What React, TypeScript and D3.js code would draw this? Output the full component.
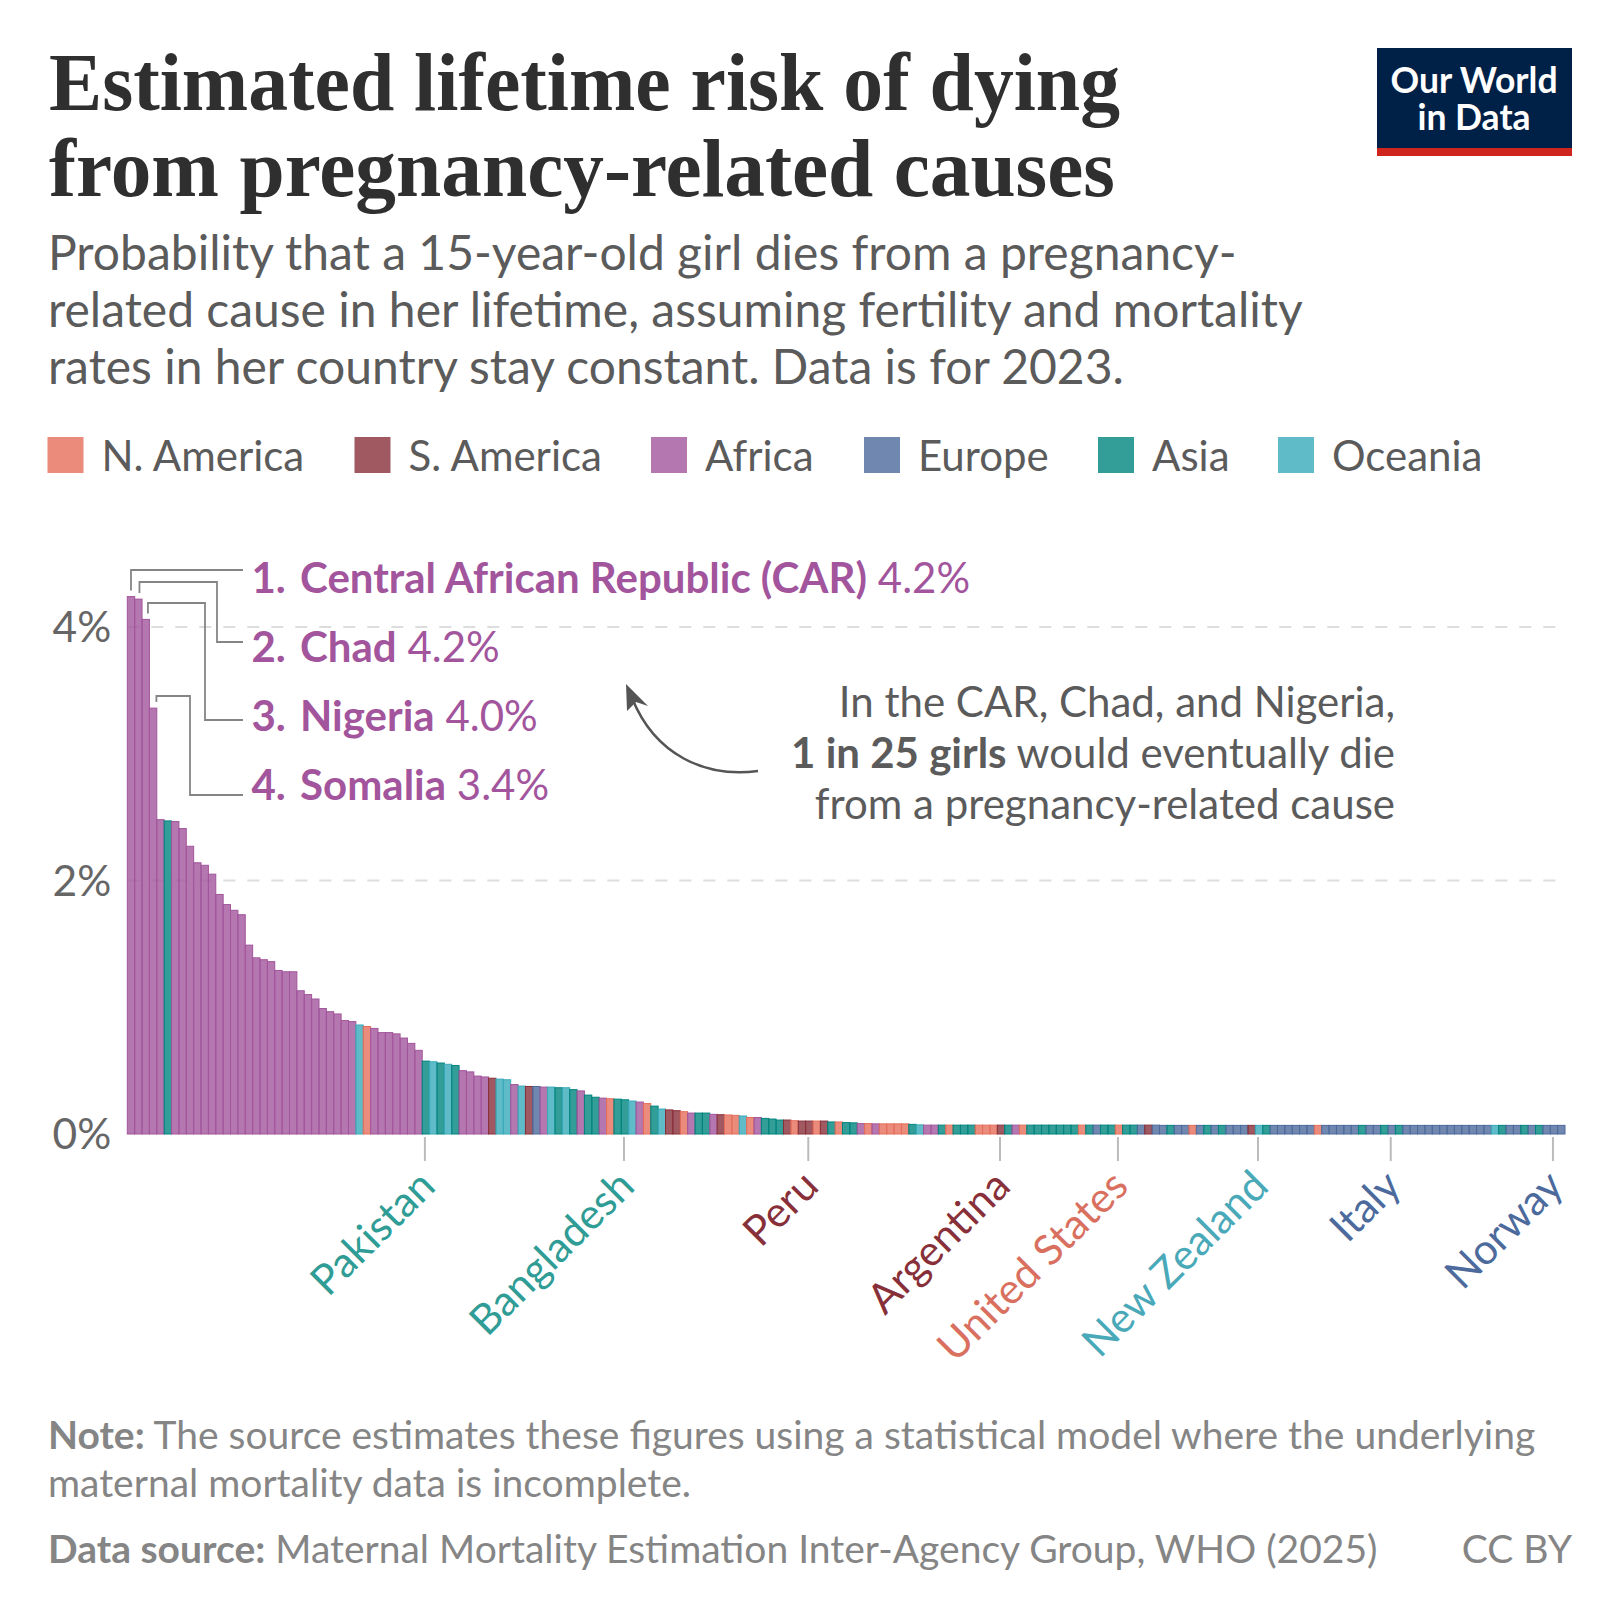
import { useEffect, useRef } from 'react';
import * as d3 from 'd3';

const values = [
  4.24, 4.22, 4.06, 3.36, 2.48, 2.47, 2.465, 2.41, 2.27, 2.14,
  2.12, 2.05, 1.89, 1.81, 1.765, 1.73, 1.49, 1.39, 1.375, 1.36,
  1.29, 1.28, 1.28, 1.13, 1.1, 1.065, 0.99, 0.965, 0.947, 0.895,
  0.887, 0.86, 0.848, 0.833, 0.8, 0.8, 0.79, 0.757, 0.715, 0.66,
  0.575, 0.57, 0.56, 0.55, 0.54, 0.5, 0.49, 0.457, 0.45, 0.44,
  0.433, 0.428, 0.39, 0.378, 0.375, 0.375, 0.37, 0.37, 0.365, 0.365,
  0.35, 0.34, 0.307, 0.29, 0.283, 0.278, 0.275, 0.27, 0.26, 0.252,
  0.24, 0.22, 0.197, 0.19, 0.184, 0.176, 0.165, 0.165, 0.165, 0.155,
  0.152, 0.15, 0.147, 0.142, 0.13, 0.13, 0.123, 0.118, 0.11, 0.11,
  0.105, 0.102, 0.102, 0.102, 0.102, 0.095, 0.095, 0.09, 0.088, 0.082,
  0.082, 0.08, 0.08, 0.08, 0.08, 0.08, 0.076, 0.072, 0.07, 0.07,
  0.07, 0.07, 0.07, 0.07, 0.07, 0.07, 0.07, 0.07, 0.07, 0.07,
  0.07, 0.07, 0.07, 0.07, 0.07, 0.07, 0.07, 0.07, 0.07, 0.07,
  0.07, 0.07, 0.07, 0.07, 0.07, 0.07, 0.07, 0.07, 0.07, 0.07,
  0.068, 0.068, 0.068, 0.068, 0.068, 0.068, 0.068, 0.068, 0.068, 0.068,
  0.068, 0.068, 0.068, 0.068, 0.068, 0.068, 0.068, 0.068, 0.068, 0.068,
  0.068, 0.068, 0.068, 0.068, 0.068, 0.068, 0.068, 0.068, 0.068, 0.068,
  0.068, 0.068, 0.068, 0.068, 0.068, 0.068, 0.068, 0.068, 0.068, 0.068,
  0.068, 0.068, 0.068, 0.068, 0.068, 0.068, 0.068, 0.068, 0.068, 0.068,
  0.068, 0.068, 0.068, 0.068, 0.068,
];

const continents = [
  'AF', 'AF', 'AF', 'AF', 'AF', 'AS', 'AF', 'AF', 'AF', 'AF',
  'AF', 'AF', 'AF', 'AF', 'AF', 'AF', 'AF', 'AF', 'AF', 'AF',
  'AF', 'AF', 'AF', 'AF', 'AF', 'AF', 'AF', 'AF', 'AF', 'AF',
  'AF', 'OC', 'NA', 'AF', 'AF', 'AF', 'AF', 'AF', 'AF', 'AF',
  'AS', 'OC', 'AS', 'OC', 'AS', 'AF', 'AF', 'AF', 'AF', 'SA',
  'OC', 'OC', 'AF', 'OC', 'SA', 'EU', 'AF', 'OC', 'AS', 'OC',
  'AS', 'AF', 'AS', 'AS', 'AF', 'NA', 'AS', 'AS', 'OC', 'AF',
  'NA', 'AS', 'OC', 'SA', 'SA', 'NA', 'AF', 'AS', 'AS', 'AF',
  'SA', 'NA', 'NA', 'OC', 'NA', 'AF', 'AS', 'AS', 'AS', 'SA',
  'NA', 'SA', 'SA', 'NA', 'SA', 'AS', 'NA', 'AS', 'AS', 'AF',
  'NA', 'AF', 'NA', 'NA', 'NA', 'NA', 'AS', 'OC', 'AF', 'AF',
  'AS', 'NA', 'AS', 'AS', 'AS', 'NA', 'NA', 'NA', 'SA', 'AS',
  'AF', 'NA', 'AS', 'AS', 'AS', 'AS', 'AS', 'AS', 'AS', 'NA',
  'AS', 'EU', 'AS', 'AS', 'NA', 'AS', 'AS', 'EU', 'SA', 'EU',
  'EU', 'AS', 'EU', 'EU', 'NA', 'EU', 'AS', 'EU', 'AS', 'EU',
  'EU', 'EU', 'SA', 'OC', 'AS', 'EU', 'EU', 'EU', 'EU', 'EU',
  'EU', 'NA', 'EU', 'EU', 'EU', 'EU', 'EU', 'AS', 'EU', 'EU',
  'AS', 'EU', 'AS', 'EU', 'EU', 'EU', 'EU', 'EU', 'EU', 'EU',
  'EU', 'EU', 'EU', 'EU', 'EU', 'OC', 'AS', 'EU', 'EU', 'AS',
  'EU', 'AS', 'EU', 'EU', 'EU',
];

const legendKeys = ['NA', 'SA', 'AF', 'EU', 'AS', 'OC'];
const legendNames = ['N. America', 'S. America', 'Africa', 'Europe', 'Asia', 'Oceania'];
const legendSwatchX = [47.5, 354.5, 651, 864, 1098, 1278];

const continentColors = ['#E56E5A', '#883039', '#A2559C', '#4C6A9C', '#00847E', '#38AABA'];
const labelColors = ['#D9705F', '#883039', '#A2559C', '#4C6A9C', '#2F9C95', '#4AA9B8'];

const labelledRanks = [40, 67, 92, 118, 134, 153, 171, 193];
const labelledNames = ['Pakistan', 'Bangladesh', 'Peru', 'Argentina', 'United States', 'New Zealand', 'Italy', 'Norway'];

const topRanks = [0, 1, 2, 3];
const topNames = ['Central African Republic (CAR)', 'Chad', 'Nigeria', 'Somalia'];
const topValues = ['4.2%', '4.2%', '4.0%', '3.4%'];

const yTicks = [0, 2, 4];

const SANS = 'Lato, sans-serif';
const SERIF = '"Liberation Serif", serif';

export default function App() {
  const svgRef = useRef<SVGSVGElement>(null);

  useEffect(() => {
    if (!svgRef.current) return;
    const svg = d3.select(svgRef.current);
    svg.selectAll('*').remove();

    const color = d3.scaleOrdinal<string, string>().domain(legendKeys).range(continentColors);
    const labelColor = d3.scaleOrdinal<string, string>().domain(legendKeys).range(labelColors);

    const x = d3.scaleBand<number>().domain(values.map((_, i) => i)).range([127.3, 1565]);
    const y = d3.scaleLinear().domain([0, 4]).range([1134, 627]);

    const text = (tx: number, ty: number, size: number, fill: string, anchor = 'start') =>
      svg.append('text')
        .attr('x', tx)
        .attr('y', ty)
        .attr('font-family', SANS)
        .attr('font-size', size)
        .attr('fill', fill)
        .attr('text-anchor', anchor);

    // Title
    text(49, 110, 82, '#2f2f2f').attr('font-family', SERIF).attr('font-weight', 700)
      .attr('textLength', 1071).attr('lengthAdjust', 'spacingAndGlyphs')
      .text('Estimated lifetime risk of dying');
    text(49, 196, 82, '#2f2f2f').attr('font-family', SERIF).attr('font-weight', 700)
      .attr('textLength', 1066).attr('lengthAdjust', 'spacingAndGlyphs')
      .text('from pregnancy-related causes');

    // Subtitle
    text(48, 270, 48, '#5b5b5b').text('Probability that a 15-year-old girl dies from a pregnancy-');
    text(48, 327, 48, '#5b5b5b').text('related cause in her lifetime, assuming fertility and mortality');
    text(48, 384, 48, '#5b5b5b').text('rates in her country stay constant. Data is for 2023.');

    // Logo
    svg.append('rect').attr('x', 1377).attr('y', 48).attr('width', 195).attr('height', 108).attr('fill', '#002147');
    svg.append('rect').attr('x', 1377).attr('y', 148).attr('width', 195).attr('height', 8).attr('fill', '#CE261E');
    const logo = text(1474, 93, 35.5, '#fff', 'middle').attr('font-weight', 700);
    logo.append('tspan').attr('x', 1474).attr('y', 93).text('Our World');
    logo.append('tspan').attr('x', 1474).attr('y', 130).text('in Data');

    // Legend
    legendNames.forEach((name, i) => {
      svg.append('rect')
        .attr('x', legendSwatchX[i])
        .attr('y', 437)
        .attr('width', 36)
        .attr('height', 36)
        .attr('fill', color(legendKeys[i]))
        .attr('fill-opacity', 0.8);
      text(legendSwatchX[i] + 54, 471, 42, '#5b5b5b').text(name);
    });

    // Y axis with dashed grid
    const yAxis = svg.append('g')
      .attr('transform', 'translate(127.3,1)')
      .call(d3.axisLeft(y).tickValues(yTicks).tickSize(0).tickPadding(16).tickFormat(d => `${d}%`));
    yAxis.select('.domain').remove();
    yAxis.selectAll('text')
      .attr('font-family', SANS)
      .attr('font-size', 42.5)
      .attr('fill', '#666');
    svg.append('g')
      .selectAll('line')
      .data(yTicks.filter(d => d > 0))
      .join('line')
      .attr('x1', 127.3)
      .attr('x2', 1560)
      .attr('y1', d => y(d))
      .attr('y2', d => y(d))
      .attr('stroke', '#ddd')
      .attr('stroke-width', 2)
      .attr('stroke-dasharray', '12 12');

    // Bars
    svg.append('g')
      .selectAll('rect')
      .data(values)
      .join('rect')
      .attr('x', (_, i) => x(i)!)
      .attr('y', d => y(d))
      .attr('width', x.bandwidth())
      .attr('height', d => y(0) - y(d))
      .attr('fill', (_, i) => color(continents[i]))
      .attr('fill-opacity', 0.8)
      .attr('stroke', (_, i) => color(continents[i]))
      .attr('stroke-width', 1);

    // X axis: only the labelled countries
    const labelOf = new Map(labelledRanks.map((r, i) => [r, labelledNames[i]]));
    const xAxis = svg.append('g')
      .attr('transform', `translate(0,${y(0)})`)
      .call(d3.axisBottom(x).tickValues(labelledRanks).tickSize(27).tickPadding(0).tickFormat(d => labelOf.get(d as number) ?? ''));
    xAxis.select('.domain').remove();
    xAxis.selectAll('line')
      .attr('x1', -1)
      .attr('x2', -1)
      .attr('y1', 3)
      .attr('stroke', '#bbb')
      .attr('stroke-width', 2);
    xAxis.selectAll<SVGTextElement, number>('text')
      .attr('font-family', SANS)
      .attr('font-size', 42)
      .attr('dy', 0)
      .attr('y', 0)
      .attr('text-anchor', 'end')
      .attr('transform', 'translate(11.5,54.5) rotate(-45)')
      .attr('fill', d => labelColor(continents[d]));

    // Ranked labels with stepped connectors
    const labelY = [593, 662, 731, 800];
    const lineY = [570, 642, 720, 795];
    const elbowX = [0, 217, 205, 190];
    const riseY = [570, 582, 603, 696];
    const labelX = 251.5;
    topRanks.forEach((r, i) => {
      const cx = x(r)! + x.bandwidth() / 2 + i * 1.1;
      const y0 = y(values[r]) - 6;
      const p = d3.path();
      p.moveTo(cx, y0);
      p.lineTo(cx, riseY[i]);
      if (i > 0) {
        p.lineTo(elbowX[i], riseY[i]);
        p.lineTo(elbowX[i], lineY[i]);
      }
      p.lineTo(243, lineY[i]);
      svg.append('path')
        .attr('d', p.toString())
        .attr('fill', 'none')
        .attr('stroke', '#858585')
        .attr('stroke-width', 1.8);

      const t = text(labelX, labelY[i], 42, '#A2559C');
      t.append('tspan').attr('font-weight', 700).text(`${r + 1}. `);
      t.append('tspan').attr('dx', 4).attr('font-weight', 700).text(topNames[i]);
      t.append('tspan').text(` ${topValues[i]}`);
    });

    // Annotation
    text(1395, 717, 42, '#5b5b5b', 'end').text('In the CAR, Chad, and Nigeria,');
    const mid = text(1395, 768, 42, '#5b5b5b', 'end');
    mid.append('tspan').attr('font-weight', 700).text('1 in 25 girls');
    mid.append('tspan').text(' would eventually die');
    text(1395, 819, 42, '#5b5b5b', 'end').text('from a pregnancy-related cause');

    const arrow = d3.path();
    arrow.moveTo(758, 771);
    arrow.bezierCurveTo(705, 778, 655, 755, 632, 698);
    svg.append('path').attr('d', arrow.toString()).attr('fill', 'none').attr('stroke', '#555').attr('stroke-width', 2.5);
    svg.append('path').attr('d', 'M626 684 L648 706 L636 702 L627 711 Z').attr('fill', '#555');

    // Footer
    const note = text(48, 1449, 39, '#858585');
    note.append('tspan').attr('font-weight', 700).text('Note:');
    note.append('tspan').text(' The source estimates these figures using a statistical model where the underlying');
    text(48, 1497, 39, '#858585').text('maternal mortality data is incomplete.');
    const source = text(48, 1563, 39, '#858585');
    source.append('tspan').attr('font-weight', 700).text('Data source:');
    source.append('tspan').text(' Maternal Mortality Estimation Inter-Agency Group, WHO (2025)');
    text(1572, 1563, 39, '#858585', 'end').text('CC BY');
  }, []);

  return (
    <svg
      ref={svgRef}
      width={1620}
      height={1620}
      style={{ position: 'absolute', left: 0, top: 0, background: '#fff' }}
    />
  );
}
